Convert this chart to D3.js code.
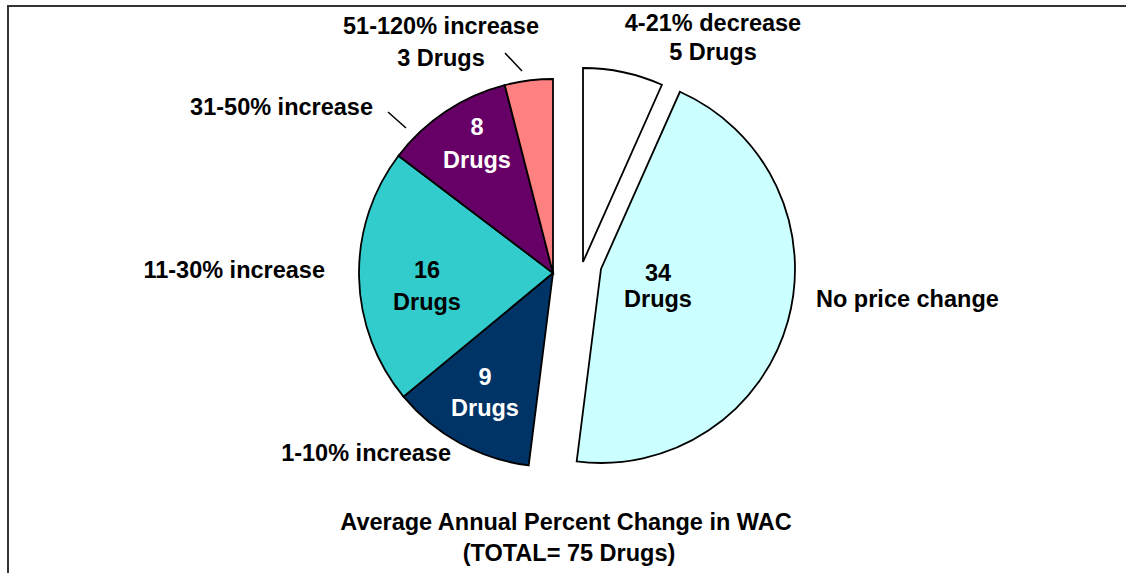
<!DOCTYPE html>
<html>
<head>
<meta charset="utf-8">
<script src="https://cdn.jsdelivr.net/npm/d3@7"></script>
<style>
  body { margin: 0; background: #fff; }
  svg { display: block; }
  text { font-family: "Liberation Sans", Arial, Helvetica, sans-serif; font-weight: bold; }
</style>
</head>
<body>
<svg id="chart" width="1126" height="573"></svg>
<script>
// ---- data ----
const categories = ["4-21% decrease", "No price change", "1-10% increase",
                    "11-30% increase", "31-50% increase", "51-120% increase"];
const drugCounts = [5, 34, 9, 16, 8, 3];
const countUnit = "Drugs";
const titleLines = ["Average Annual Percent Change in WAC", "(TOTAL= 75 Drugs)"];

// ---- styling / layout ----
const sliceColors = ["#FFFFFF", "#CCFFFF", "#003366", "#33CCCC", "#660066", "#FF8080"];
const innerTextColors = ["#000", "#000", "#FFF", "#000", "#FFF", "#000"];
const center = { x: 553, y: 273 };
const radius = 194;
// pulled-out slices: translation of each slice away from the pie centre
const explode = [{ dx: 30, dy: -11 }, { dx: 48, dy: -4 }, null, null, null, null];
// inside labels (count + unit): x centre, first baseline, line gap; null = count shown outside
const innerLabel = [
  null,
  { x: 658, y: 281, gap: 26 },
  { x: 485, y: 385, gap: 31 },
  { x: 427, y: 278, gap: 32 },
  { x: 477, y: 135, gap: 33 },
  null
];
// outside category labels
const outerLabel = [
  { x: 713, y: 31, anchor: "middle", gap: 29, withCount: true },
  { x: 816, y: 307, anchor: "start" },
  { x: 451, y: 461, anchor: "end" },
  { x: 325, y: 278, anchor: "end" },
  { x: 373, y: 115, anchor: "end" },
  { x: 441, y: 34, anchor: "middle", gap: 32, withCount: true }
];
// short leader lines from a label toward its slice
const leaders = [
  null, null, null, null,
  { x1: 388, y1: 112, x2: 406, y2: 128 },
  { x1: 505, y1: 53, x2: 522, y2: 71 }
];
const fontSize = 23.5;

const svg = d3.select("#chart");

// frame
svg.append("rect")
  .attr("x", 8).attr("y", 6)
  .attr("width", 1140).attr("height", 600)
  .attr("fill", "none").attr("stroke", "#333").attr("stroke-width", 2);

const pie = d3.pie().sort(null).value(d => d)
  .startAngle(0).endAngle(2 * Math.PI);
const arcs = pie(drugCounts);
const arc = d3.arc().innerRadius(0).outerRadius(radius);

const g = svg.append("g").attr("transform", `translate(${center.x},${center.y})`);

g.selectAll("path.slice")
  .data(arcs)
  .join("path")
  .attr("class", "slice")
  .attr("d", arc)
  .attr("transform", (d, i) => explode[i] ? `translate(${explode[i].dx},${explode[i].dy})` : null)
  .attr("fill", (d, i) => sliceColors[i])
  .attr("stroke", "#000")
  .attr("stroke-width", 1.8)
  .attr("stroke-linejoin", "miter");

// counts inside slices
arcs.forEach((d, i) => {
  const L = innerLabel[i];
  if (!L) return;
  const t = svg.append("text")
    .attr("text-anchor", "middle")
    .attr("font-size", fontSize)
    .attr("fill", innerTextColors[i]);
  t.append("tspan").attr("x", L.x).attr("y", L.y).text(d.data);
  t.append("tspan").attr("x", L.x).attr("y", L.y + L.gap).text(countUnit);
});

// category labels
categories.forEach((c, i) => {
  const L = outerLabel[i];
  const t = svg.append("text")
    .attr("text-anchor", L.anchor)
    .attr("font-size", fontSize)
    .attr("fill", "#000");
  t.append("tspan").attr("x", L.x).attr("y", L.y).text(c);
  if (L.withCount) {
    t.append("tspan").attr("x", L.x).attr("y", L.y + L.gap)
      .text(`${drugCounts[i]} ${countUnit}`);
  }
});

// leader lines
svg.selectAll("line.leader")
  .data(leaders.filter(Boolean))
  .join("line")
  .attr("class", "leader")
  .attr("x1", d => d.x1).attr("y1", d => d.y1)
  .attr("x2", d => d.x2).attr("y2", d => d.y2)
  .attr("stroke", "#000").attr("stroke-width", 1.5);

// title
const title = svg.append("text")
  .attr("text-anchor", "middle")
  .attr("font-size", fontSize)
  .attr("fill", "#000");
title.append("tspan").attr("x", 566).attr("y", 530).text(titleLines[0]);
title.append("tspan").attr("x", 569).attr("y", 561).text(titleLines[1]);
</script>
</body>
</html>
